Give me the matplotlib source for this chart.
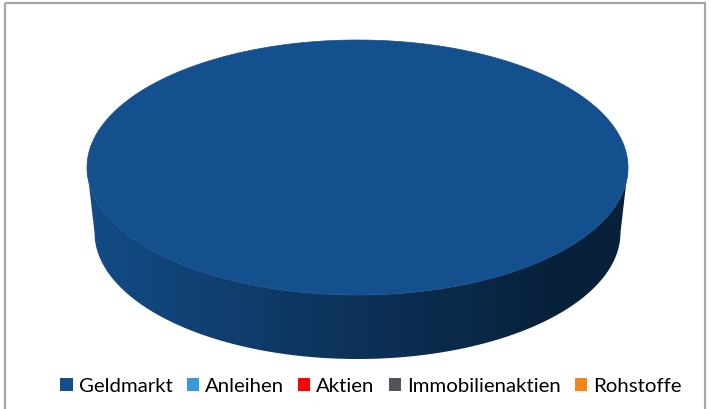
import numpy as np
import matplotlib
matplotlib.use("Agg")
import matplotlib.pyplot as plt
from matplotlib.patches import Polygon, Rectangle
from matplotlib.colors import to_rgb

categories = ["Geldmarkt", "Anleihen", "Aktien", "Immobilienaktien", "Rohstoffe"]
values = [100.0, 0.0, 0.0, 0.0, 0.0]
colors = ["#14508e", "#3a9ad9", "#ff0000", "#555559", "#f0861a"]

W, H = 711, 409
fig = plt.figure(figsize=(W / 100, H / 100), dpi=100)
ax = fig.add_axes([0, 0, 1, 1])
ax.set_xlim(0, W)
ax.set_ylim(H, 0)
ax.axis("off")

# frame
ax.add_patch(Rectangle((5, 2.5), 700, 420, fill=False, ec="#a6a6a6", lw=1.6, zorder=0))

# geometry of the 3D pie (pixel space)
cx, cy, a, b = 357.5, 167.5, 270.5, 127.5
cyb, ab, bb = 232.5, 263.0, 126.5  # bottom ellipse (slight perspective)

def top_pt(t):
    return cx + a * np.cos(t), cy + b * np.sin(t)

def bot_pt(t):
    return cx + ab * np.cos(t), cyb + bb * np.sin(t)

def side_gradient(base):
    xs = np.linspace(0, 1, 512)
    basec = np.array(to_rgb(base))
    left, mid, right = basec * 0.95, basec * 0.62, basec * 0.42
    out = np.zeros((1, 512, 3))
    for i, f in enumerate(xs):
        if f < 0.5:
            g = f / 0.5
            c = left * (1 - g) + mid * g
        else:
            g = min((f - 0.5) / 0.35, 1)
            c = mid * (1 - g) + right * g
        out[0, i] = c
    return out

total = sum(values)
start = 0.0
for val, col in zip(values, colors):
    if val <= 0:
        continue
    ang = 2 * np.pi * val / total
    t0, t1 = start, start + ang
    start = t1
    # visible side: front half (sin(t) >= 0 in y-down pixel space)
    lo, hi = max(t0, 0.0), min(t1, np.pi)
    if hi > lo:
        ts = np.linspace(lo, hi, 400)
        top = [top_pt(t) for t in ts]
        bot = [bot_pt(t) for t in ts[::-1]]
        side = Polygon(top + bot, closed=True, fc="none", ec="none", zorder=2)
        ax.add_patch(side)
        im = ax.imshow(side_gradient(col), extent=(cx - a, cx + a, cyb + bb + 2, cy - 2),
                       aspect="auto", interpolation="bilinear", zorder=2)
        im.set_clip_path(side)
    # top face
    tt = np.linspace(t0, t1, 600)
    pts = [top_pt(t) for t in tt]
    if ang < 2 * np.pi - 1e-9:
        pts = [(cx, cy)] + pts
    ax.add_patch(Polygon(pts, closed=True, fc=col, ec=col, lw=0.5, zorder=3))

ax.set_xlim(0, W)
ax.set_ylim(H, 0)

handles = [Rectangle((0, 0), 1, 1, fc=c, ec="none") for c in colors]
fig.legend(handles, categories, loc="center", bbox_to_anchor=(371 / W, 1 - 386 / H),
           ncol=5, frameon=False, handlelength=0.6, handleheight=0.6,
           handletextpad=0.3, columnspacing=0.68,
           prop={"family": "Lato", "size": 14.7})

fig.savefig("out.png", dpi=100)
